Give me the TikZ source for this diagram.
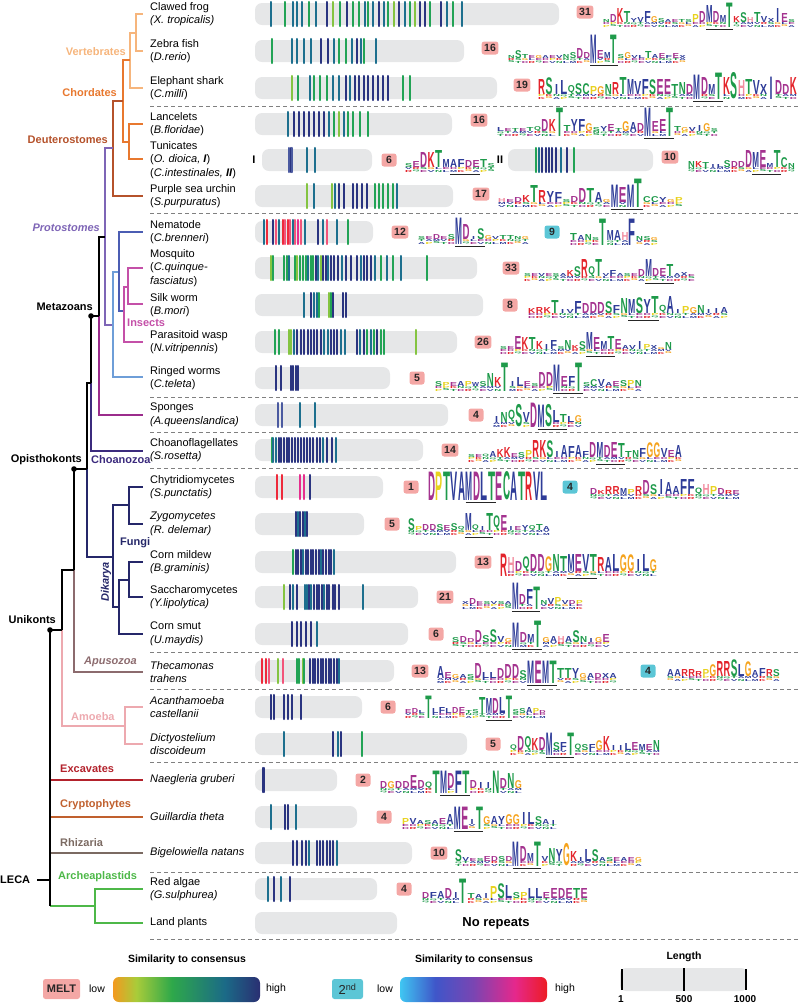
\documentclass[tikz,border=0pt]{standalone}
\usepackage{fontspec}
\setmainfont{Liberation Sans}
\usepackage{graphicx}
\usetikzlibrary{calc}
% tree colours
\definecolor{vertc}{HTML}{F6B57C}
\definecolor{chorc}{HTML}{E8782F}
\definecolor{deutc}{HTML}{B5522B}
\definecolor{protc}{HTML}{7E65B6}
\definecolor{lbluec}{HTML}{6E9ED8}
\definecolor{mbluec}{HTML}{4B5DB3}
\definecolor{insc}{HTML}{C450A8}
\definecolor{spongc}{HTML}{9B2C8C}
\definecolor{choac}{HTML}{3B2A7D}
\definecolor{fungc}{HTML}{252769}
\definecolor{apuc}{HTML}{8C6B6E}
\definecolor{amoc}{HTML}{EDA9AF}
\definecolor{excc}{HTML}{B3222C}
\definecolor{cryc}{HTML}{C0602E}
\definecolor{rhic}{HTML}{7B6A62}
\definecolor{arcc}{HTML}{4DB848}
% bars and repeats
\definecolor{barc}{HTML}{E6E7E8}
\definecolor{nv}{HTML}{2A3480}
\definecolor{tl}{HTML}{1D6F8E}
\definecolor{gr}{HTML}{22A355}
\definecolor{lg}{HTML}{84C441}
\definecolor{rd}{HTML}{EE2A3B}
\definecolor{pk}{HTML}{F2547A}
\definecolor{mg}{HTML}{E62E8E}
\definecolor{bl}{HTML}{4B5AA0}
\definecolor{pinkc}{HTML}{F4A7A5}
\definecolor{cyanc}{HTML}{5CC6D6}
% amino acid colours
\definecolor{aared}{HTML}{E3242B}
\definecolor{aapur}{HTML}{A4338F}
\definecolor{aablu}{HTML}{2E3C98}
\definecolor{aagrn}{HTML}{1E9A4A}
\definecolor{aaorg}{HTML}{F5A31D}
\definecolor{aayel}{HTML}{E8D21F}
\definecolor{aapnk}{HTML}{F28DA0}
\colorlet{aaK}{aared}\colorlet{aaR}{aared}
\colorlet{aaD}{aapur}\colorlet{aaE}{aapur}
\colorlet{aaA}{aablu}\colorlet{aaV}{aablu}\colorlet{aaL}{aablu}\colorlet{aaI}{aablu}
\colorlet{aaM}{aablu}\colorlet{aaF}{aablu}\colorlet{aaW}{aablu}\colorlet{aaY}{aablu}\colorlet{aaX}{aablu}
\colorlet{aaS}{aagrn}\colorlet{aaT}{aagrn}\colorlet{aaN}{aagrn}\colorlet{aaQ}{aagrn}\colorlet{aaC}{aagrn}
\colorlet{aaG}{aaorg}\colorlet{aaP}{aayel}\colorlet{aaH}{aapnk}
% legend gradients
\definecolor{mA}{HTML}{F39A1F}
\definecolor{mB}{HTML}{A8CC3A}
\definecolor{mC}{HTML}{2EA84A}
\definecolor{mD}{HTML}{1B6A87}
\definecolor{mE}{HTML}{2A2F72}
\definecolor{sA}{HTML}{3FC6F2}
\definecolor{sB}{HTML}{3F56C9}
\definecolor{sC}{HTML}{7A45B2}
\definecolor{sD}{HTML}{E5288C}
\definecolor{sE}{HTML}{ED1C24}
\pgfdeclarehorizontalshading{meltsh}{100bp}{color(0bp)=(mA); color(25bp)=(mA); color(33bp)=(mB); color(45bp)=(mC); color(63bp)=(mD); color(75bp)=(mE); color(100bp)=(mE)}
\pgfdeclarehorizontalshading{secsh}{100bp}{color(0bp)=(sA); color(25bp)=(sA); color(37bp)=(sB); color(50bp)=(sC); color(64bp)=(sD); color(75bp)=(sE); color(100bp)=(sE)}

\newcommand\flet[1]{\ifcase#1\relax\textcolor{aaS}{S}\or\textcolor{aaE}{E}\or\textcolor{aaK}{K}\or\textcolor{aaT}{T}\or\textcolor{aaV}{V}\or\textcolor{aaG}{G}\or\textcolor{aaD}{D}\or\textcolor{aaN}{N}\or\textcolor{aaA}{A}\or\textcolor{aaR}{R}\or\textcolor{aaL}{L}\or\textcolor{aaP}{P}\or\textcolor{aaQ}{Q}\or\textcolor{aaM}{M}\fi}
\newcount\lgn
\newcount\lgid
% x0, x1, baseline, underline from col, to col, data
\newcommand\mylogo[6]{%
  \global\advance\lgid by 1
  \global\lgn=0
  \foreach \l/\h in {#6}{\global\advance\lgn by 1}
  \pgfmathsetmacro\lgw{(#2-#1)/\the\lgn}
  \pgfmathsetmacro\lgwf{0.94*\lgw}
  \foreach[count=\i] \l/\h in {#6}{%
    \if I\l \def\lgf{0.4}\def\lgo{0.3}\else\def\lgf{0.94}\def\lgo{0.03}\fi
    \pgfmathsetmacro\lxf{#1+(\i-1+0.03)*\lgw}
    \pgfmathsetmacro\lx{#1+(\i-1+\lgo)*\lgw}
    \pgfmathsetmacro\lww{\lgf*\lgw}
    \ifdim\h pt<18pt
      \pgfmathtruncatemacro\fa{mod(\i*5+#1,14)}
      \pgfmathtruncatemacro\fb{mod(\i*3+#1+7,14)}
      \node[lgl] (g\the\lgid-\i-c) at (\lxf,#3) {\resizebox*{\lgwf pt}{2pt}{\flet{\fb}}};
      \node[lgl] (g\the\lgid-\i-b) at (\lxf,#3-2.2) {\resizebox*{\lgwf pt}{2pt}{\flet{\fa}}};
      \node[lgl] (g\the\lgid-\i-a) at (\lx,#3-4.4) {\resizebox*{\lww pt}{\h pt}{\textcolor{aa\l}{\l}}};
    \else
      \pgfmathsetmacro\hh{\h+4.4}
      \node[lgl] (g\the\lgid-\i-a) at (\lx,#3) {\resizebox*{\lww pt}{\hh pt}{\textcolor{aa\l}{\l}}};
    \fi
  }
  \ifnum#4>0
    \draw[ulin] ({#1+(#4-1)*\lgw},#3+2.4) -- ({#1+#5*\lgw},#3+2.4);
  \fi
}
\newcommand\myreps[3]{\foreach \z/\c in {#3}{\draw[rep,draw=\c] ({#2+\z/3},#1-12) -- ({#2+\z/3},#1+12);}}

\tikzset{
  sp/.style={anchor=west, align=left, inner sep=0pt, font=\fontsize{11}{13.5}\selectfont},
  clab/.style={inner sep=0pt, font=\bfseries\fontsize{11}{13}\selectfont},
  tr/.style={line width=1.9pt},
  rep/.style={line width=2.1pt, line cap=round},
  dsh/.style={draw=black!50, line width=0.8pt, dash pattern=on 4pt off 3pt},
  numb/.style={rounded corners=2.5pt, inner xsep=2.5pt, inner ysep=1.8pt, minimum width=15pt, minimum height=13pt, font=\bfseries\fontsize{10.5}{12}\selectfont, text=black!85},
  pnum/.style={numb, fill=pinkc},
  cnum/.style={numb, fill=cyanc},
  lgl/.style={anchor=south west, inner sep=0pt, outer sep=0pt, font=\bfseries},
  ulin/.style={line width=1.2pt, black!85},
  lgd/.style={inner sep=0pt, font=\fontsize{10.5}{12}\selectfont},
  lgdb/.style={inner sep=0pt, font=\bfseries\fontsize{10.5}{12}\selectfont}
}

\begin{document}
\begin{tikzpicture}[x=1pt,y=-1pt]
\useasboundingbox (0,0) rectangle (800,1005);

% separators
\foreach \yy in {106,213,397,432,468,652,689,762,872,939} \draw[dsh] (150,\yy) -- (800,\yy);

% bars
\foreach \yy/\xe in {14/559,51/464,88/497,124/452,196/453,232/373,268/477,305/483,342/457,378/390,415/448,450/423,487/383,524/364,562/456,597/418,634/408,671/394,707/362,744/467,780/337,817/357,853/412,889/377,923/397}
  \fill[barc,rounded corners=7pt] (255,\yy-11) rectangle (\xe,\yy+11);
\fill[barc,rounded corners=7pt] (262,149) rectangle (372,171);
\fill[barc,rounded corners=7pt] (508,149) rectangle (653,171);

% repeats
\myreps{14}{240}{92/tl,135/gr,158/tl,170/tl,185/tl,207/gr,228/tl,262/nv,280/lg,300/gr,320/nv,338/gr,358/gr,375/tl,385/gr,400/tl,418/nv,432/tl,445/gr,463/lg,478/nv,495/tl,510/gr,525/lg,540/nv,555/nv,570/gr,602/nv,620/tl,640/gr,665/tl}
\myreps{51}{240}{97/gr,157/tl,170/tl,193/tl,212/tl,243/nv,265/nv,282/tl,298/gr,318/gr,335/tl,350/nv,362/tl,372/gr,408/tl}
\myreps{88}{240}{157/lg,175/gr,210/tl,222/gr,240/gr,260/gr,278/tl,298/tl,318/nv,330/tl,345/nv,358/nv,372/nv,385/nv,400/nv,413/nv,428/nv,443/nv,490/gr,510/gr}
\myreps{124}{240}{145/tl,162/nv,178/nv,193/nv,207/nv,222/nv,237/nv,252/nv,268/tl,283/gr,298/lg,312/tl,325/gr,338/gr,360/gr,385/gr}
\myreps{160}{240}{147/bl,152/nv,157/bl,202/tl,226/tl}
\myreps{160}{480}{167/gr,177/tl,187/nv,197/nv,207/nv,217/nv,227/nv,242/tl,260/nv,282/gr}
\myreps{196}{240}{200/lg,222/tl,275/lg,285/tl,298/nv,313/nv,338/nv,350/nv,365/nv,380/nv,405/gr,418/gr,430/gr,445/gr,460/gr,472/tl}
\myreps{232}{240}{73/tl,80/rd,100/nv,108/pk,118/tl,128/rd,135/pk,143/rd,150/pk,158/tl,165/pk,175/mg,183/pk,195/tl,233/nv,248/tl,262/pk,292/tl,323/gr}
\myreps{268}{240}{92/lg,100/gr,133/gr,140/gr,148/tl,165/gr,172/lg,180/gr,190/gr,197/gr,205/tl,213/gr,220/gr,228/nv,235/tl,242/lg,248/nv,257/nv,265/tl,273/nv,282/nv,293/nv,305/tl,318/nv,332/nv,352/nv,362/tl,372/nv,382/nv,393/nv,405/tl,423/gr,440/tl,460/gr,483/tl,562/gr}
\myreps{305}{240}{192/tl,212/nv,222/tl,230/tl,237/gr,268/lg,272/gr,278/nv,308/nv,317/nv}
\myreps{342}{240}{105/gr,118/gr,147/lg,153/lg,163/tl,172/nv,183/nv,193/nv,203/nv,213/nv,222/nv,232/nv,242/nv,252/tl,263/tl,272/nv,283/nv,292/nv,303/tl,315/tl,350/nv,360/tl,372/nv,382/gr,392/tl,402/gr,412/nv,422/gr,433/gr,527/lg}
\myreps{378}{240}{108/nv,123/nv,153/nv,160/nv,167/nv,173/nv}
\myreps{415}{240}{113/bl,125/bl,180/tl,225/tl}
\myreps{450}{240}{95/gr,100/tl,108/tl,116/nv,124/nv,132/nv,140/nv,148/nv,156/nv,164/nv,173/nv,182/nv,191/nv,200/nv,210/nv,220/nv,230/nv,240/nv,250/tl,262/nv,275/nv,287/tl}
\myreps{487}{240}{110/rd,125/rd,180/mg,193/mg,210/nv}
\myreps{524}{240}{167/nv,173/tl,180/nv,188/nv,195/tl,200/nv}
\myreps{562}{240}{158/gr,168/nv,175/nv,182/nv,190/tl,198/nv,205/nv,212/nv,220/nv,228/nv,236/nv,243/tl,250/nv,258/nv,266/nv,274/nv,282/tl}
\myreps{597}{240}{133/lg,150/nv,160/tl,170/nv,195/tl,200/tl,208/nv,213/tl,222/nv,230/nv,238/nv,245/nv,252/tl,260/nv,268/nv,278/nv,285/nv,296/nv,370/tl}
\myreps{634}{240}{157/nv,170/nv,183/nv,197/nv,212/nv,230/tl}
\myreps{671}{240}{67/rd,77/rd,88/pk,115/lg,128/pk,170/gr,178/gr,188/lg,193/gr,210/nv,218/nv,226/nv,234/nv,242/nv,250/nv,258/nv,266/nv,274/nv,282/nv,290/nv,298/tl}
\myreps{707}{240}{93/nv,103/nv,133/nv,143/nv,155/nv,183/nv}
\myreps{744}{240}{133/tl,278/nv,293/tl,303/nv,367/gr}
\myreps{780}{240}{68/nv,73/nv}
\myreps{817}{240}{93/tl,135/nv,145/nv,167/tl}
\myreps{853}{240}{158/nv,170/nv,185/nv,197/nv,208/tl,230/nv,240/nv,250/nv,260/nv,270/nv,280/nv,292/tl}
\myreps{889}{240}{83/tl,103/nv,123/tl,150/nv}

% tunicate labels
\node[clab] (tI) at (254,160) {I};
\node[clab] (tII) at (500,160) {II};

% counts
\node[pnum] (k1) at (585,12) {31};
\node[pnum] (k2) at (490,48) {16};
\node[pnum] (k3) at (522,85) {19};
\node[pnum] (k4) at (479,120) {16};
\node[pnum] (k5a) at (389,160) {6};
\node[pnum] (k5b) at (670,157) {10};
\node[pnum] (k6) at (481,194) {17};
\node[pnum] (k7) at (400,232) {12};
\node[cnum] (c7) at (552,232) {9};
\node[pnum] (k8) at (511,268) {33};
\node[pnum] (k9) at (510,305) {8};
\node[pnum] (k10) at (483,342) {26};
\node[pnum] (k11) at (417,378) {5};
\node[pnum] (k12) at (476,415) {4};
\node[pnum] (k13) at (450,450) {14};
\node[pnum] (k14) at (411,487) {1};
\node[cnum] (c14) at (570,487) {4};
\node[pnum] (k15) at (392,524) {5};
\node[pnum] (k16) at (483,562) {13};
\node[pnum] (k17) at (445,597) {21};
\node[pnum] (k18) at (436,634) {6};
\node[pnum] (k19) at (420,671) {13};
\node[cnum] (c19) at (648,671) {4};
\node[pnum] (k20) at (388,707) {6};
\node[pnum] (k21) at (493,744) {5};
\node[pnum] (k22) at (363,780) {2};
\node[pnum] (k23) at (384,817) {4};
\node[pnum] (k24) at (439,853) {10};
\node[pnum] (k25) at (404,889) {4};
\node[font=\bfseries\fontsize{13}{15}\selectfont] (norep) at (496,923) {No repeats};

% logos
\mylogo{603}{795}{27}{16}{19}{N/3,D/8,K/14,T/11,Y/4,V/5,F/11,G/6,S/4,A/3,E/3,T/3,S/3,P/8,D/11,M/17,D/11,M/7,T/20,K/6,S/10,H/5,T/10,V/6,X/4,I/14,E/9,S/3}
\mylogo{508}{686}{63}{13}{16}{N/3,S/8,T/4,E/3,G/3,A/3,E/3,V/3,N/4,S/6,D/10,D/6,M/24,E/8,M/6,T/24,S/4,G/6,V/3,L/3,T/7,A/4,E/5,F/3,E/5,X/3}
\mylogo{538}{797}{99}{22}{25}{R/15,S/17,I/10,L/14,Q/9,S/11,C/11,P/8,G/8,N/10,R/12,T/17,M/15,V/13,F/15,S/15,E/15,E/15,T/10,N/12,D/10,M/20,D/17,M/10,T/22,K/17,S/22,H/14,T/15,V/14,X/10,I/18,D/14,D/10,K/17}
\mylogo{497}{718}{136}{21}{24}{L/4,E/3,T/3,E/3,T/4,Q/5,D/12,K/12,T/24,T/6,Y/12,F/12,G/8,S/4,Y/5,E/7,T/3,G/10,A/9,D/8,M/24,E/10,E/12,T/24,T/5,G/4,V/4,I/6,G/8,S/3}
\mylogo{405}{495}{172}{7}{10}{S/4,E/6,D/15,K/15,T/17,M/8,A/8,F/8,D/7,E/7,T/8,S/4}
\mylogo{688}{795}{172}{10}{13}{N/6,K/6,T/5,I/3,L/3,S/7,D/6,D/6,D/17,M/15,E/17,M/4,T/17,C/10,N/4}
\mylogo{498}{683}{207}{15}{18}{H/4,E/3,D/5,K/7,T/17,R/12,Y/11,F/10,S/3,D/6,D/14,T/14,A/10,G/3,M/18,E/15,M/18,T/24,C/6,C/6,Y/5,G/3,P/5}
\mylogo{418}{529}{244}{6}{9}{S/3,E/3,D/5,E/3,S/5,M/22,D/15,I/3,S/11,G/4,V/3,T/4,T/4,N/3,G/3}
\mylogo{570}{658}{245}{0}{0}{T/7,A/5,N/6,S/3,T/22,M/10,A/10,H/8,F/22,N/4,S/4,G/3}
\mylogo{524}{695}{281}{18}{21}{S/3,E/3,V/3,E/3,S/3,A/3,K/6,S/10,R/17,Q/10,T/17,V/3,F/6,A/3,S/3,E/3,D/7,M/17,D/8,E/8,T/12,A/3,X/4,E/2}
\mylogo{528}{728}{318}{14}{17}{K/5,R/6,K/6,T/13,I/4,V/4,F/12,D/10,D/11,D/11,S/12,F/8,N/15,M/14,S/16,Y/14,T/17,Q/8,A/17,I/4,P/7,G/6,N/8,I/4,I/5,A/6}
\mylogo{500}{672}{354}{13}{16}{S/3,E/3,E/13,K/12,T/12,K/8,I/5,F/9,S/3,N/9,K/4,S/8,M/17,E/12,M/8,T/13,E/10,A/4,V/4,I/8,P/5,X/4,G/2,N/7}
\mylogo{435}{642}{391}{17}{20}{S/5,P/4,E/4,A/5,P/5,W/4,S/5,N/13,K/9,T/24,I/5,L/9,E/5,S/3,D/14,D/14,M/22,E/10,F/10,T/24,S/4,C/7,V/7,A/4,E/5,S/6,P/6,N/6}
\mylogo{493}{582}{427}{7}{10}{I/6,N/10,Q/12,S/18,V/10,D/20,M/18,S/18,L/12,T/8,L/6,G/7}
\mylogo{468}{682}{462}{19}{22}{S/3,E/3,Q/3,A/6,K/8,K/10,E/4,S/5,P/7,R/17,K/17,S/17,I/6,A/12,F/11,A/12,F/6,D/15,M/15,D/12,E/15,T/14,T/6,N/7,F/9,G/15,G/15,V/9,E/7,A/12}
\mylogo{428}{548}{500}{6}{9}{D/24,P/24,T/24,V/24,A/24,M/24,D/24,L/24,T/24,E/24,C/24,A/24,T/24,R/24,V/24,L/24}
\mylogo{590}{740}{499}{0}{0}{D/6,K/4,R/8,R/8,M/6,P/5,R/8,D/14,S/10,I/15,A/12,A/8,F/15,F/15,Q/7,H/10,P/8,D/6,R/4,E/4}
\mylogo{408}{550}{535}{9}{12}{S/12,P/4,D/6,D/6,S/6,E/5,S/7,Q/4,M/17,Q/6,I/4,T/17,Q/15,E/15,I/4,E/4,Y/5,Q/5,T/6,A/4}
\mylogo{500}{657}{576}{10}{13}{R/18,H/14,D/10,Q/15,D/17,D/17,G/15,N/17,T/15,M/17,E/17,V/17,T/17,R/14,A/14,L/17,G/17,G/17,I/12,L/17,G/12}
\mylogo{462}{583}{609}{8}{11}{X/3,D/6,E/3,S/3,V/3,S/3,A/3,M/22,D/10,F/15,T/18,N/4,V/6,P/7,V/4,D/4,P/4}
\mylogo{452}{610}{647}{9}{12}{S/5,D/6,D/4,D/12,S/7,S/13,V/6,G/4,M/20,D/10,M/8,T/22,G/5,A/6,H/6,A/6,S/12,N/6,I/4,G/5,E/8}
\mylogo{437}{617}{683}{13}{16}{A/12,E/6,G/4,A/4,S/4,D/15,L/6,L/6,D/10,D/14,D/14,S/8,M/18,E/18,M/18,T/18,T/10,T/10,Y/10,G/5,A/5,D/5,X/5,A/5}
\mylogo{667}{780}{681}{0}{0}{A/7,A/7,R/7,R/7,R/5,P/7,G/12,R/15,R/15,S/17,L/12,G/15,A/6,F/8,R/7,S/7}
\mylogo{405}{546}{718}{13}{16}{E/4,D/5,L/3,T/18,L/5,F/6,L/5,D/6,E/6,T/3,S/4,T/16,M/15,D/15,L/16,T/18,S/4,S/5,A/6,P/5,D/3}
\mylogo{510}{660}{755}{6}{9}{Q/6,D/14,Q/14,K/12,D/13,M/18,S/8,F/8,T/18,Q/7,S/6,F/6,G/10,K/14,I/5,I/5,L/7,E/8,M/6,E/6,N/10}
\mylogo{380}{522}{793}{9}{12}{D/7,G/7,D/7,D/7,E/13,D/8,Q/7,T/18,M/18,D/15,F/18,T/18,D/8,I/6,I/6,N/18,D/10,N/15,G/8}
\mylogo{402}{557}{829}{8}{11}{P/6,V/6,A/4,S/4,A/4,E/6,A/10,M/18,E/18,I/5,T/18,G/8,A/8,Y/8,G/10,G/10,I/12,L/12,S/8,A/5,I/4}
\mylogo{455}{642}{866}{9}{12}{S/12,V/4,E/3,S/3,E/5,D/5,S/5,D/5,M/20,D/15,M/8,T/20,V/5,N/13,Y/12,G/18,K/10,I/4,L/12,S/12,A/4,S/4,E/4,A/4,E/4,G/4}
\mylogo{422}{588}{903}{0}{0}{D/6,F/6,A/7,D/10,I/6,T/20,T/5,A/4,I/5,P/12,S/15,L/13,S/6,P/6,L/10,L/10,E/6,E/10,D/10,E/10,T/10,E/10}

% species
\node[sp] (s1) at (150,14) {Clawed frog\\\textit{(X. tropicalis)}};
\node[sp] (s2) at (150,51) {Zebra fish\\(\textit{D.rerio})};
\node[sp] (s3) at (150,88) {Elephant shark\\(\textit{C.milli})};
\node[sp] (s4) at (150,124) {Lancelets\\(\textit{B.floridae})};
\node[sp] (s5) at (150,160) {Tunicates\\(\textit{O. dioica, \textbf{I}})\\(\textit{C.intestinales, \textbf{II}})};
\node[sp] (s6) at (150,196) {Purple sea urchin\\(\textit{S.purpuratus})};
\node[sp] (s7) at (150,232) {Nematode\\(\textit{C.brenneri})};
\node[sp] (s8) at (150,268) {Mosquito\\(\textit{C.quinque-}\\\textit{fasciatus})};
\node[sp] (s9) at (150,305) {Silk worm\\(\textit{B.mori})};
\node[sp] (s10) at (150,342) {Parasitoid wasp\\(\textit{N.vitripennis})};
\node[sp] (s11) at (150,378) {Ringed worms\\(\textit{C.teleta})};
\node[sp] (s12) at (150,415) {Sponges\\\textit{(A.queenslandica)}};
\node[sp] (s13) at (150,450) {Choanoflagellates\\\textit{(S.rosetta)}};
\node[sp] (s14) at (150,487) {Chytridiomycetes\\\textit{(S.punctatis)}};
\node[sp] (s15) at (150,524) {\textit{Zygomycetes}\\\textit{(R. delemar)}};
\node[sp] (s16) at (150,562) {Corn mildew\\\textit{(B.graminis)}};
\node[sp] (s17) at (150,597) {Saccharomycetes\\\textit{(Y.lipolytica)}};
\node[sp] (s18) at (150,634) {Corn smut\\\textit{(U.maydis)}};
\node[sp] (s19) at (150,672) {\textit{Thecamonas}\\\textit{trahens}};
\node[sp] (s20) at (150,707) {\textit{Acanthamoeba}\\\textit{castellanii}};
\node[sp] (s21) at (150,744) {\textit{Dictyostelium}\\\textit{discoideum}};
\node[sp] (s22) at (150,780) {\textit{Naegleria gruberi}};
\node[sp] (s23) at (150,817) {\textit{Guillardia theta}};
\node[sp] (s24) at (150,853) {\textit{Bigelowiella natans}};
\node[sp] (s25) at (150,889) {Red algae\\\textit{(G.sulphurea)}};
\node[sp] (s26) at (150,923) {Land plants};

% tree coordinates
\foreach \n/\yy in {1/14,2/51,3/88,4/124,5/159,6/196,7/232,8/268,9/304,10/342,11/377,12/415,13/451,14/487,15/524,16/562,17/597,18/634,19/672,20/707,21/744,22/780,23/817,24/853,25/889,26/923}
  \coordinate (L\n) at (143,\yy);
\coordinate (nFZ) at (136,33);
\coordinate (nV) at (130,60);
\coordinate (nC) at (123,101);
\coordinate (nLT) at (129,142);
\coordinate (nD) at (113,148);
\coordinate (nE) at (105,237);
\coordinate (nP) at (113,325);
\coordinate (nEc) at (119,272);
\coordinate (nI) at (124,311);
\coordinate (nMS) at (128,287);
\coordinate (nM) at (99,316);
\coordinate (nHz) at (91,383);
\coordinate (nOp) at (87,469);
\coordinate (nF) at (113,557);
\coordinate (nCZ) at (129,505);
\coordinate (nDk) at (119,607);
\coordinate (nMSc) at (129,580);
\coordinate (nOb) at (74,570);
\coordinate (nU) at (62,630);
\coordinate (nAm) at (125,726);
\coordinate (nL) at (50,880);
\coordinate (nAr) at (95,906);
\coordinate (root) at (37,880);

% tree branches
\draw[tr,vertc] (nFZ) |- (L1) (nFZ) |- (L2) (nV) |- (nFZ) (nV) |- (L3);
\draw[tr,chorc] (nC) |- (nV) (nC) |- (nLT) (nLT) |- (L4) (nLT) |- (L5);
\draw[tr,deutc] (nD) |- (nC) (nD) |- (L6);
\draw[tr,protc] (nE) |- (nD) (nE) |- (nP);
\draw[tr,lbluec] (nP) |- (nEc) (nP) |- (L11);
\draw[tr,mbluec] (nEc) |- (L7) (nEc) |- (nI);
\draw[tr,insc] (nI) |- (nMS) (nI) |- (L10) (nMS) |- (L8) (nMS) |- (L9);
\draw[tr,spongc] (nM) |- (L12);
\draw[tr,choac] (nHz) |- (L13);
\draw[tr,fungc] (nOp) |- (nF) (nF) |- (nCZ) (nF) |- (nDk) (nCZ) |- (L14) (nCZ) |- (L15) (nDk) |- (nMSc) (nDk) |- (L18) (nMSc) |- (L16) (nMSc) |- (L17);
\draw[tr,apuc] (nOb) |- (L19);
\draw[tr,amoc] (nU) |- (nAm) (nAm) |- (L20) (nAm) |- (L21);
\draw[tr,excc] (nL |- L22) -- (L22);
\draw[tr,cryc] (nL |- L23) -- (L23);
\draw[tr,rhic] (nL |- L24) -- (L24);
\draw[tr,arcc] (nL |- nAr) -- (nAr) (nAr) |- (L25) (nAr) |- (L26);
\draw[tr,black] (nM) |- (nE) (nHz) |- (nM) (nOp) |- (nHz) (nOb) |- (nOp) (nU) |- (nOb) (nL) |- (nU) (nL) -- (nL |- nAr) (root) -- (nL);
\fill (nHz |- nM) circle (2.8pt);
\fill (nOb |- nOp) circle (2.8pt);
\fill (nL |- nU) circle (2.8pt);

% clade labels
\node[clab,text=vertc,anchor=east] (lVert) at (126,52) {Vertebrates};
\node[clab,text=chorc,anchor=east] (lChor) at (117,93) {Chordates};
\node[clab,text=deutc,anchor=east] (lDeut) at (108,140) {Deuterostomes};
\node[clab,text=protc,anchor=east,font=\bfseries\itshape\fontsize{11}{13}\selectfont] (lProt) at (100,228) {Protostomes};
\node[clab,anchor=east] (lMeta) at (93,307) {Metazoans};
\node[clab,text=insc,anchor=west] (lIns) at (127,323) {Insects};
\node[clab,anchor=east] (lOpi) at (82,460) {Opisthokonts};
\node[clab,text=choac,anchor=west] (lCho) at (91,460) {Choanozoa};
\node[clab,text=fungc,anchor=west] (lFun) at (120,543) {Fungi};
\node[clab,text=fungc,rotate=90,font=\bfseries\itshape\fontsize{11}{13}\selectfont] (lDik) at (106,582) {Dikarya};
\node[clab,anchor=east] (lUni) at (56,620) {Unikonts};
\node[clab,text=apuc,anchor=west,font=\bfseries\itshape\fontsize{11}{13}\selectfont] (lApu) at (84,662) {Apusozoa};
\node[clab,text=amoc,anchor=west] (lAmo) at (71,717) {Amoeba};
\node[clab,text=excc,anchor=west] (lExc) at (60,769) {Excavates};
\node[clab,text=cryc,anchor=west] (lCry) at (60,805) {Cryptophytes};
\node[clab,text=rhic,anchor=west] (lRhi) at (60,843) {Rhizaria};
\node[clab,text=arcc,anchor=west] (lArc) at (58,877) {Archeaplastids};
\node[clab,anchor=west] (lLeca) at (0,880) {LECA};

% legend
\node[lgdb] (sim1) at (187,960) {Similarity to consensus};
\node[pnum,minimum width=37pt,minimum height=20pt,font=\bfseries\fontsize{11}{13}\selectfont] (mB) at (61.5,989) {MELT};
\node[lgd] (lo1) at (97,989) {low};
\shade[shading=meltsh,rounded corners=6pt] (113,977) rectangle (260,1002);
\node[lgd] (hi1) at (276,989) {high};
\node[lgdb] (sim2) at (474,960) {Similarity to consensus};
\node[cnum,minimum width=31pt,minimum height=20pt,font=\fontsize{13}{14}\selectfont] (sBx) at (347.5,989) {2\textsuperscript{nd}};
\node[lgd] (lo2) at (385,989) {low};
\shade[shading=secsh,rounded corners=6pt] (400,977) rectangle (547,1002);
\node[lgd] (hi2) at (565,989) {high};
\node[lgdb] (lenl) at (684,957) {Length};
\fill[barc,rounded corners=6pt] (620,968) rectangle (747,991);
\draw[line width=1.6pt] (622,969) -- (622,990) (684,968) -- (684,991) (746,969) -- (746,990);
\node[lgdb,font=\bfseries\fontsize{10}{12}\selectfont] (t1) at (621,999.5) {1};
\node[lgdb,font=\bfseries\fontsize{10}{12}\selectfont] (t500) at (684,999.5) {500};
\node[lgdb,font=\bfseries\fontsize{10}{12}\selectfont] (t1000) at (745,999.5) {1000};
\end{tikzpicture}
\end{document}
